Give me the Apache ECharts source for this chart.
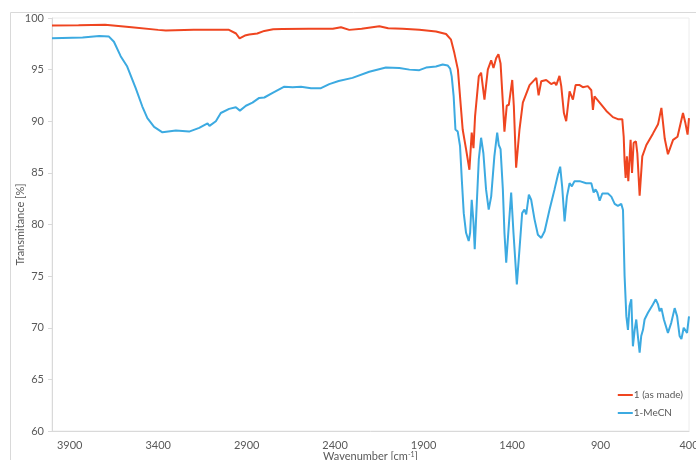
<!DOCTYPE html>
<html>
<head>
<meta charset="utf-8">
<title>IR spectra</title>
<script src="https://cdn.jsdelivr.net/npm/echarts@6/dist/echarts.min.js"></script>
<style>
  html, body { margin: 0; padding: 0; background: #fff; }
  #chart { width: 696px; height: 460px; }
</style>
</head>
<body>
<div id="chart"></div>
<script>
// 1 (as made)
var madeWn = [4000, 3850, 3700, 3550, 3400, 3357, 3200, 3093, 3000, 2960, 2940, 2910, 2885, 2840, 2800, 2750, 2698, 2550, 2413, 2367, 2320, 2250, 2150, 2100, 2018, 1924, 1830, 1773, 1745, 1726, 1706, 1688, 1679, 1660, 1641, 1628, 1618, 1609, 1588, 1575, 1556, 1537, 1518, 1505, 1490, 1477, 1465, 1452, 1443, 1430, 1418, 1399, 1390, 1377, 1358, 1339, 1301, 1263, 1250, 1235, 1207, 1179, 1160, 1150, 1132, 1122, 1107, 1094, 1075, 1065, 1056, 1041, 1018, 1000, 972, 952, 943, 934, 905, 867, 830, 802, 777, 769, 764, 758, 751, 743, 730, 722, 713, 700, 692, 679, 664, 641, 604, 575, 556, 537, 519, 490, 465, 434, 420, 408, 400];
var madeT = [99.28, 99.3, 99.35, 99.1, 98.85, 98.8, 98.85, 98.87, 98.85, 98.5, 98.03, 98.3, 98.4, 98.5, 98.75, 98.9, 98.93, 98.95, 98.95, 99.1, 98.85, 98.95, 99.2, 99.0, 98.96, 98.87, 98.7, 98.45, 97.9, 96.6, 95.0, 91.1, 89.2, 87.3, 85.3, 88.9, 87.4, 90.5, 94.35, 94.7, 92.1, 95.0, 95.9, 95.16, 96.1, 96.5, 95.6, 91.8, 89.0, 91.5, 91.6, 94.0, 91.5, 85.5, 89.2, 91.8, 93.5, 94.2, 92.5, 93.87, 94.0, 93.6, 93.77, 93.5, 94.4, 93.4, 90.8, 90.0, 92.9, 93.06, 92.1, 93.5, 93.5, 93.3, 93.4, 93.0, 91.1, 92.4, 91.8, 91.0, 90.4, 90.2, 90.2, 88.5, 86.1, 84.5, 86.6, 84.2, 88.2, 85.0, 87.9, 88.06, 86.9, 82.8, 86.6, 87.7, 88.8, 89.7, 91.3, 88.3, 86.8, 88.2, 88.5, 90.8, 89.8, 88.7, 90.3];

// 1-MeCN
var mecnWn = [4000, 3827, 3733, 3678, 3650, 3612, 3575, 3527, 3490, 3461, 3423, 3376, 3300, 3225, 3168, 3121, 3110, 3074, 3046, 2999, 2961, 2938, 2904, 2867, 2829, 2800, 2753, 2687, 2640, 2593, 2536, 2480, 2433, 2380, 2302, 2207, 2113, 2037, 1980, 1924, 1886, 1830, 1792, 1764, 1750, 1741, 1730, 1720, 1707, 1694, 1684, 1673, 1660, 1645, 1637, 1628, 1618, 1611, 1600, 1588, 1575, 1562, 1547, 1532, 1518, 1500, 1484, 1475, 1465, 1452, 1443, 1433, 1420, 1405, 1392, 1373, 1358, 1343, 1330, 1320, 1305, 1292, 1273, 1254, 1235, 1216, 1188, 1160, 1141, 1128, 1117, 1103, 1090, 1075, 1062, 1047, 1018, 981, 952, 939, 928, 918, 905, 890, 858, 839, 820, 802, 783, 773, 769, 764, 754, 745, 736, 726, 717, 707, 698, 689, 679, 670, 660, 651, 632, 604, 588, 575, 566, 556, 542, 519, 500, 481, 467, 453, 443, 430, 419, 411, 400];
var mecnT = [98.03, 98.1, 98.25, 98.2, 97.7, 96.3, 95.3, 93.2, 91.45, 90.3, 89.45, 88.93, 89.1, 89.0, 89.36, 89.8, 89.55, 90.0, 90.8, 91.2, 91.35, 91.03, 91.5, 91.8, 92.26, 92.3, 92.74, 93.35, 93.3, 93.35, 93.2, 93.2, 93.6, 93.9, 94.2, 94.8, 95.2, 95.16, 95.0, 94.95, 95.2, 95.3, 95.5, 95.4, 95.1, 94.35, 92.4, 89.2, 89.0, 87.6, 84.35, 81.1, 79.2, 78.4, 79.2, 82.4, 80.2, 77.6, 81.8, 86.3, 88.4, 86.9, 83.4, 81.45, 82.7, 86.6, 88.9, 87.7, 87.3, 83.4, 79.2, 76.3, 79.5, 83.1, 79.2, 74.2, 77.6, 81.1, 81.45, 80.97, 82.9, 82.4, 80.5, 79.0, 78.7, 79.35, 81.45, 83.4, 84.8, 85.6, 83.7, 80.3, 82.7, 84.0, 83.7, 84.2, 84.2, 84.0, 84.0, 83.1, 83.4, 83.1, 82.3, 83.0, 83.0, 82.7, 82.0, 81.8, 82.0, 81.4, 78.5, 75.0, 71.1, 69.8, 72.1, 72.75, 68.2, 69.8, 70.8, 69.2, 67.6, 69.2, 69.8, 70.8, 71.45, 72.26, 72.75, 72.26, 71.6, 71.9, 70.8, 69.5, 70.5, 71.9, 71.1, 69.2, 68.9, 70.0, 70.16, 69.5, 71.1];

function pairs(xs, ys) {
  return xs.map(function (x, i) { return [x, ys[i]]; });
}

var font = 'Lato, "Open Sans", sans-serif';
var chart = echarts.init(document.getElementById('chart'));
chart.setOption({
  animation: false,
  color: ['#EF4520', '#3CAAE1'],
  textStyle: { fontFamily: font },
  graphic: [{
    type: 'rect',
    shape: { x: 10.5, y: 12.5, width: 720, height: 480 },
    style: { fill: 'none', stroke: '#d9d9d9', lineWidth: 1 },
    silent: true
  }],
  grid: {
    left: 52, right: 7, top: 18, bottom: 29,
    outerBoundsMode: 'none',
    show: true, borderColor: '#ececec', borderWidth: 1
  },
  legend: {
    orient: 'vertical',
    right: 8, top: 385,
    icon: 'rect',
    itemWidth: 15, itemHeight: 2, itemGap: 8,
    textStyle: { fontSize: 10, color: '#595959', fontFamily: font, padding: [0, 0, 0, -4] },
    data: ['1 (as made)', '1-MeCN']
  },
  xAxis: {
    type: 'value',
    inverse: true,
    min: 400, max: 4000, interval: 500,
    name: '{a|Wavenumber [cm}{s|-1}{a|]}',
    nameLocation: 'middle',
    nameGap: 20,
    nameMoveOverlap: false,
    nameTextStyle: {
      rich: {
        a: { fontSize: 11, color: '#595959', fontFamily: font },
        s: { fontSize: 7, color: '#595959', fontFamily: font, verticalAlign: 'top', padding: [0, 0, 4, 0] }
      }
    },
    axisLine: { lineStyle: { color: '#d9d9d9' } },
    axisTick: { show: false },
    splitLine: { show: false },
    axisLabel: {
      showMaxLabel: false, fontSize: 11, color: '#595959', margin: 9,
      formatter: function (v) { return String(v); }
    }
  },
  yAxis: {
    type: 'value',
    min: 60, max: 100, interval: 5,
    name: 'Transmitance [%]',
    nameLocation: 'middle',
    nameGap: 26,
    nameMoveOverlap: false,
    nameTextStyle: { fontSize: 11, color: '#595959' },
    axisLine: { show: true, lineStyle: { color: '#d9d9d9' } },
    axisTick: { show: true, length: 4, lineStyle: { color: '#d9d9d9' } },
    splitLine: { show: false },
    axisLabel: { fontSize: 11, color: '#595959', margin: 8 }
  },
  series: [
    {
      name: '1 (as made)',
      type: 'line',
      symbol: 'none',
      lineStyle: { width: 2 },
      data: pairs(madeWn, madeT)
    },
    {
      name: '1-MeCN',
      type: 'line',
      symbol: 'none',
      lineStyle: { width: 2 },
      data: pairs(mecnWn, mecnT)
    }
  ]
});
</script>
</body>
</html>
